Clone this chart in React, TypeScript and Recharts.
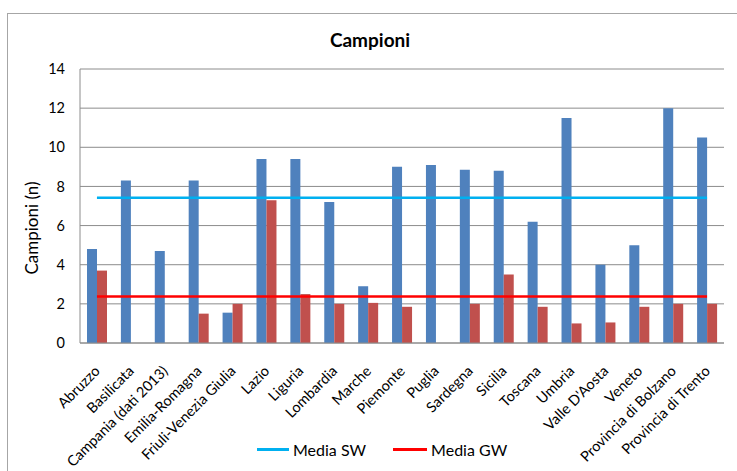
import React from 'react';
import { ComposedChart, Bar, Line, XAxis, YAxis, CartesianGrid } from 'recharts';

const regions = [
  'Abruzzo', 'Basilicata', 'Campania (dati 2013)', 'Emilia-Romagna', 'Friuli-Venezia Giulia',
  'Lazio', 'Liguria', 'Lombardia', 'Marche', 'Piemonte', 'Puglia', 'Sardegna', 'Sicilia',
  'Toscana', 'Umbria', "Valle D'Aosta", 'Veneto', 'Provincia di Bolzano', 'Provincia di Trento',
];
const swValues = [4.8, 8.3, 4.7, 8.3, 1.55, 9.4, 9.4, 7.2, 2.9, 9.0, 9.1, 8.85, 8.8, 6.2, 11.5, 4.0, 5.0, 12.0, 10.5];
const gwValues = [3.7, 0, 0, 1.5, 2.0, 7.3, 2.5, 2.0, 2.05, 1.85, 0, 2.0, 3.5, 1.85, 1.0, 1.05, 1.85, 2.0, 2.0];
const mediaSW = 7.42;
const mediaGW = 2.37;
const yTicks = [0, 2, 4, 6, 8, 10, 12, 14];

const data = regions.map((r, i) => ({
  name: r,
  sw: swValues[i],
  gw: gwValues[i],
  mediaSW,
  mediaGW,
}));

const FONT = 'Lato, "Open Sans", sans-serif';

const XTick = (props: any) => {
  const { x, y, payload } = props;
  const ax = x + 4;
  const ay = y + 21;
  return (
    <text
      x={ax}
      y={ay}
      transform={`rotate(-45, ${ax}, ${ay})`}
      textAnchor="end"
      fontSize={14.5}
      fontFamily={FONT}
      fill="#000"
    >
      {payload.value}
    </text>
  );
};

export default function App() {
  return (
    <div style={{ position: 'absolute', left: 0, top: 0, width: 737, height: 471, overflow: 'hidden', background: '#fff' }}>
      <div
        style={{
          position: 'absolute', left: 7, top: 13, width: 760, height: 480,
          border: '1.5px solid #a6a6a6', boxSizing: 'border-box',
        }}
      />
      <div
        style={{
          position: 'absolute', left: 0, width: 740, top: 28, textAlign: 'center',
          fontFamily: FONT, fontWeight: 'bold', fontSize: 19, color: '#000',
        }}
      >
        Campioni
      </div>
      <div style={{ position: 'absolute', left: 0, top: 0 }}>
        <ComposedChart
          width={737}
          height={471}
          data={data}
          margin={{ top: 69, right: 13, left: 0, bottom: 30 }}
          barGap={0}
        >
          <CartesianGrid vertical={false} stroke="#8c8c8c" strokeWidth={1} />
          <XAxis
            dataKey="name"
            interval={0}
            tick={<XTick />}
            tickLine={false}
            axisLine={{ stroke: '#8c8c8c' }}
            height={98}
          />
          <YAxis
            domain={[0, 14]}
            ticks={yTicks}
            width={80}
            tickLine={false}
            tickSize={0}
            tickMargin={15}
            axisLine={{ stroke: '#8c8c8c' }}
            tick={{ fontSize: 14.5, fontFamily: FONT, fill: '#000' }}
          />
          <Bar dataKey="sw" name="SW" fill="#4F81BD" barSize={10} isAnimationActive={false} />
          <Bar dataKey="gw" name="GW" fill="#C0504D" barSize={10} isAnimationActive={false} />
          <Line dataKey="mediaSW" name="Media SW" stroke="#00B0F0" strokeWidth={2.5} dot={false} activeDot={false} isAnimationActive={false} />
          <Line dataKey="mediaGW" name="Media GW" stroke="#FF0000" strokeWidth={2.5} dot={false} activeDot={false} isAnimationActive={false} />
        </ComposedChart>
      </div>
      <svg width={737} height={471} style={{ position: 'absolute', left: 0, top: 0, pointerEvents: 'none' }}>
        <text
          x={38}
          y={228}
          transform="rotate(-90, 38, 228)"
          textAnchor="middle"
          fontSize={17}
          fontFamily={FONT}
          fill="#000"
        >
          Campioni (n)
        </text>
      </svg>
      <div
        style={{
          position: 'absolute', left: 257, top: 440, display: 'flex', alignItems: 'center',
          fontFamily: FONT, fontSize: 16, color: '#000',
        }}
      >
        <span style={{ display: 'inline-block', width: 32, height: 3, background: '#00B0F0', marginRight: 4 }} />
        <span style={{ marginRight: 27 }}>Media SW</span>
        <span style={{ display: 'inline-block', width: 34, height: 3, background: '#FF0000', marginRight: 4 }} />
        <span>Media GW</span>
      </div>
    </div>
  );
}
